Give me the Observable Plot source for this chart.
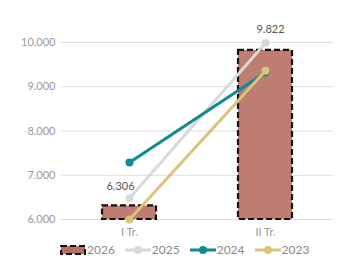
<!DOCTYPE html>
<html><head><meta charset="utf-8">
<script src="https://cdn.jsdelivr.net/npm/d3@7"></script>
<script src="https://cdn.jsdelivr.net/npm/@observablehq/plot@0.6"></script>
<style>
body{margin:0;background:#fff;font-family:Lato,"Open Sans",sans-serif;overflow:hidden;}
#legend{display:flex;gap:0;margin-left:60px;margin-top:0px;font-size:12px;color:#888;line-height:13px;}
#legend .it{display:flex;align-items:center;margin-right:10px;}
#legend svg{margin-right:1px;}
</style></head>
<body><div id="chart"></div><div id="legend"></div>
<script>
const categories = ["I Tr.", "II Tr."];
const years = ["2026", "2025", "2024", "2023"];
const values2026 = [6306, 9822];
const values2025 = [6480, 9990];
const values2024 = [7290, 9320];
const values2023 = [6000, 9360];
const yTicks = [6000, 7000, 8000, 9000, 10000];
const colors = {"2026": "#b86e60", "2025": "#d9d9d9", "2024": "#0e8a94", "2023": "#d9c57a"};

const loc = d3.formatLocale({decimal: ",", thousands: ".", grouping: [3], currency: ["", ""]});
const fmt = loc.format(",d");

const bars = categories.map((c, i) => ({cat: c, v: values2026[i]}));
const lineSeries = [["2025", values2025], ["2024", values2024], ["2023", values2023]];
const lines = lineSeries.flatMap(([y, vals]) => categories.map((c, i) => ({cat: c, v: vals[i], year: y})));

const marks = [
  Plot.ruleY(yTicks, {stroke: "#dddddd", strokeWidth: 1}),
  Plot.barY(bars, {x: "cat", y1: 6000, y2: "v", fill: colors["2026"], fillOpacity: 0.9, stroke: "#111", strokeWidth: 2.2, strokeDasharray: "6,3"})
];
for (const [y] of lineSeries) {
  const d = lines.filter(r => r.year === y);
  marks.push(Plot.line(d, {x: "cat", y: "v", stroke: colors[y], strokeWidth: 3}));
  marks.push(Plot.dot(d, {x: "cat", y: "v", fill: colors[y], r: 4}));
}
marks.push(Plot.text(bars.slice(0, 1), {x: "cat", y: "v", text: d => fmt(d.v), dy: -19, dx: -9, fill: "#555", fontSize: 11}));
marks.push(Plot.text(bars.slice(1), {x: "cat", y: "v", text: d => fmt(d.v), dy: -21, dx: 5, fill: "#555", fontSize: 11}));

const plot = Plot.plot({
  width: 345, height: 243,
  marginTop: 42, marginBottom: 24, marginLeft: 61, marginRight: 12,
  style: {fontFamily: "Lato, 'Open Sans', sans-serif", fontSize: "11px", color: "#999", background: "#fff"},
  x: {domain: categories, paddingInner: 0.6, paddingOuter: 0.3, label: null, tickSize: 0, tickPadding: 9},
  y: {domain: [6000, 10000], ticks: yTicks, tickFormat: fmt, label: null, tickSize: 0, tickPadding: 6},
  marks
});
document.getElementById("chart").appendChild(plot);

const leg = document.getElementById("legend");
for (const y of years) {
  const it = document.createElement("div"); it.className = "it";
  let sw;
  if (y === "2026") {
    sw = `<svg width="26" height="10"><rect x="1" y="1" width="24" height="8" fill="${colors[y]}" stroke="#111" stroke-width="2" stroke-dasharray="6,3"/></svg>`;
  } else {
    sw = `<svg width="26" height="10"><line x1="0" x2="26" y1="5" y2="5" stroke="${colors[y]}" stroke-width="3"/><circle cx="13" cy="5" r="4" fill="${colors[y]}"/></svg>`;
  }
  it.innerHTML = sw + `<span>${y}</span>`;
  leg.appendChild(it);
}
</script></body></html>
